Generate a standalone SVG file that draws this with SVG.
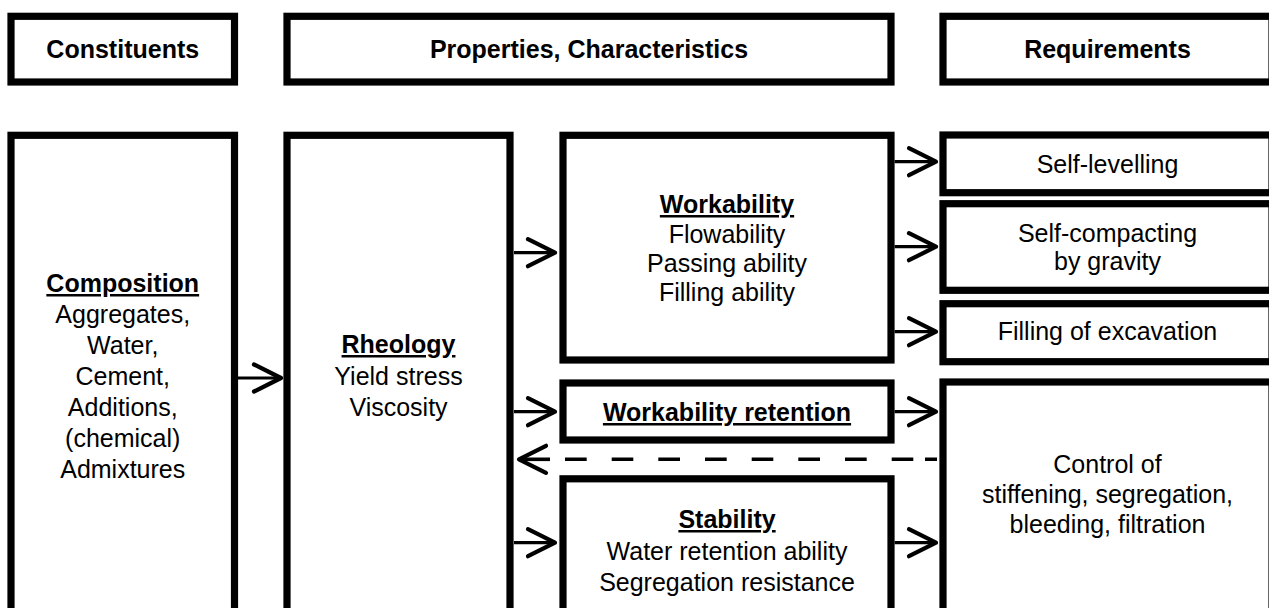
<svg xmlns="http://www.w3.org/2000/svg" width="1269" height="608" viewBox="0 0 1269 608">
<style>
.box{fill:#fff;stroke:#000;stroke-width:7.2}
text{font-family:"Liberation Sans",Arial,sans-serif;font-size:25px;fill:#000;text-anchor:middle}
.b{font-weight:bold}
.u{font-weight:bold;text-decoration:underline}
.ln{fill:none;stroke:#000;stroke-width:3.2}
.dash{fill:none;stroke:#000;stroke-width:3.6}
</style>
<defs>
<marker id="ah" markerUnits="userSpaceOnUse" viewBox="-40 -20 50 40" refX="0" refY="0" markerWidth="50" markerHeight="40" orient="auto" overflow="visible">
<path d="M-27,-13.5 L0,0 L-27,13.5" fill="none" stroke="#000" stroke-width="4.2" stroke-linecap="round" stroke-linejoin="round"/>
</marker>
</defs>
<rect width="1269" height="608" fill="#fff"/>
<g id="constituents"><rect class="box" x="11" y="16.3" width="223.5" height="65.7"/><text class="b" x="122.75" y="57.5">Constituents</text></g>
<g id="properties"><rect class="box" x="287" y="16.3" width="604" height="65.7"/><text class="b" x="589" y="57.5">Properties, Characteristics</text></g>
<g id="requirements"><rect class="box" x="943" y="16.3" width="329" height="65.7"/><text class="b" x="1107.5" y="57.5">Requirements</text></g>
<g id="composition"><rect class="box" x="11" y="135.3" width="223.5" height="490"/>
<text class="u" x="122.75" y="292">Composition</text>
<text x="122.75" y="323">Aggregates,</text>
<text x="122.75" y="354">Water,</text>
<text x="122.75" y="385">Cement,</text>
<text x="122.75" y="416">Additions,</text>
<text x="122.75" y="447">(chemical)</text>
<text x="122.75" y="478">Admixtures</text></g>
<g id="rheology"><rect class="box" x="287" y="135.3" width="223" height="490"/>
<text class="u" x="398.5" y="353">Rheology</text>
<text x="398.5" y="385">Yield stress</text>
<text x="398.5" y="416">Viscosity</text></g>
<g id="workability"><rect class="box" x="563" y="135.3" width="328" height="224.7"/>
<text class="u" x="727" y="213">Workability</text>
<text x="727" y="243">Flowability</text>
<text x="727" y="272">Passing ability</text>
<text x="727" y="301">Filling ability</text></g>
<g id="retention"><rect class="box" x="563" y="383" width="328" height="57"/>
<text class="u" x="727" y="421">Workability retention</text></g>
<g id="stability"><rect class="box" x="563" y="478.8" width="328" height="150"/>
<text class="u" x="727" y="528">Stability</text>
<text x="727" y="560">Water retention ability</text>
<text x="727" y="591">Segregation resistance</text></g>
<g id="selflevelling"><rect class="box" x="943" y="135" width="329" height="57.7"/><text x="1107.5" y="172.5">Self-levelling</text></g>
<g id="selfcompacting"><rect class="box" x="943" y="203.7" width="329" height="86.6"/><text x="1107.5" y="242">Self-compacting</text><text x="1107.5" y="270">by gravity</text></g>
<g id="filling"><rect class="box" x="943" y="303.7" width="329" height="58"/><text x="1107.5" y="340">Filling of excavation</text></g>
<g id="control"><rect class="box" x="943" y="382" width="329" height="240"/>
<text x="1107.5" y="473">Control of</text>
<text x="1107.5" y="503">stiffening, segregation,</text>
<text x="1107.5" y="533">bleeding, filtration</text></g>
<g id="connectors">
<path class="ln" d="M238,378 H281" marker-end="url(#ah)"/>
<path class="ln" d="M514,252.7 H555" marker-end="url(#ah)"/>
<path class="ln" d="M514,411.7 H555" marker-end="url(#ah)"/>
<path class="ln" d="M514,542.7 H555" marker-end="url(#ah)"/>
<path class="ln" d="M894.6,161.7 H936" marker-end="url(#ah)"/>
<path class="ln" d="M894.6,246.7 H936" marker-end="url(#ah)"/>
<path class="ln" d="M894.6,331.7 H936" marker-end="url(#ah)"/>
<path class="ln" d="M894.6,411.7 H936" marker-end="url(#ah)"/>
<path class="ln" d="M894.6,542.7 H936" marker-end="url(#ah)"/>
<path class="dash" d="M550,459.3 H519" marker-end="url(#ah)"/>
<path class="dash" d="M565,459.3 H586.7 M611.7,459.3 H633.3 M658.3,459.3 H680 M705,459.3 H726.7 M751.7,459.3 H773.3 M798.3,459.3 H820 M845,459.3 H866.7 M891.7,459.3 H913.3 M925,459.3 H937"/>
</g>
</svg>
